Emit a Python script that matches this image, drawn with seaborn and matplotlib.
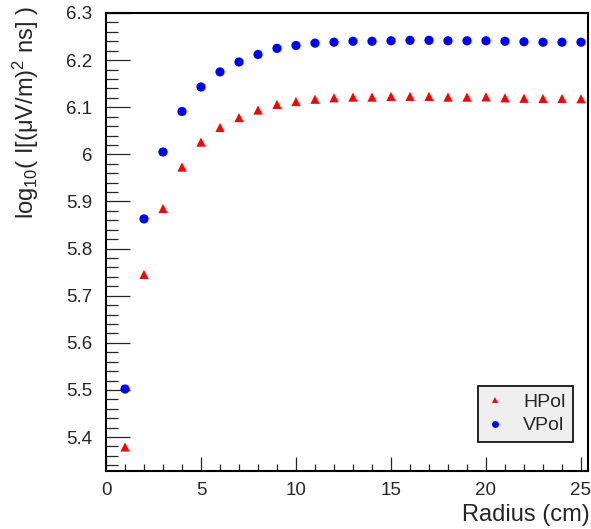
import pandas as pd
import matplotlib
matplotlib.use('Agg')
import matplotlib.pyplot as plt
import seaborn as sns
from matplotlib.ticker import MultipleLocator, FuncFormatter

# Values
radius = list(range(1, 26))
hpol = [5.379, 5.745, 5.885, 5.973, 6.026, 6.057, 6.078, 6.094, 6.106, 6.112,
        6.117, 6.120, 6.1215, 6.1215, 6.123, 6.123, 6.123, 6.1215, 6.1215, 6.122,
        6.120, 6.119, 6.1185, 6.1185, 6.118]
vpol = [5.502, 5.863, 6.005, 6.091, 6.143, 6.175, 6.196, 6.212, 6.225, 6.231,
        6.236, 6.238, 6.240, 6.240, 6.241, 6.242, 6.242, 6.241, 6.241, 6.241,
        6.240, 6.239, 6.238, 6.238, 6.238]
series_names = ['HPol', 'VPol']

df = pd.DataFrame({
    'radius': radius + radius,
    'value': hpol + vpol,
    'pol': [series_names[0]] * len(radius) + [series_names[1]] * len(radius),
})

sns.set_style('white')
plt.rcParams['font.family'] = ['Liberation Sans', 'DejaVu Sans']
plt.rcParams['mathtext.fontset'] = 'custom'
plt.rcParams['mathtext.rm'] = 'Liberation Sans'
plt.rcParams['mathtext.it'] = 'Liberation Sans:italic'

fig = plt.figure(figsize=(5.91, 5.29), dpi=100)
ax = fig.add_axes([106 / 591, 1 - 471 / 529, 482 / 591, 458 / 529])

sns.scatterplot(data=df, x='radius', y='value', hue='pol', style='pol',
                markers={'HPol': '^', 'VPol': 'o'},
                palette={'HPol': '#ff0000', 'VPol': '#0000ff'},
                s=44, linewidth=0, ax=ax)

ax.set_xlim(0, 25.37)
ax.set_ylim(5.328, 6.3)

ax.xaxis.set_major_locator(MultipleLocator(5))
ax.xaxis.set_minor_locator(MultipleLocator(1))
ax.yaxis.set_major_locator(MultipleLocator(0.1))
ax.yaxis.set_minor_locator(MultipleLocator(0.02))
ax.yaxis.set_major_formatter(FuncFormatter(lambda v, p: f'{v:g}'))

ax.tick_params(axis='x', which='major', direction='in', length=10, width=0.9,
               labelsize=13.5, pad=8, bottom=True, top=False)
ax.tick_params(axis='x', which='minor', direction='in', length=5, width=0.9,
               bottom=True, top=False)
ax.tick_params(axis='y', which='major', direction='in', length=17, width=0.9,
               labelsize=13.5, pad=10, left=True, right=False)
ax.tick_params(axis='y', which='minor', direction='in', length=8.5, width=0.9,
               left=True, right=False)

for sp in ax.spines.values():
    sp.set_linewidth(1.5)
    sp.set_color('black')

ax.set_xlabel('Radius (cm)', fontsize=17, loc='right')
ax.xaxis.set_label_coords(1.004, -0.072)
ax.set_ylabel('log$_\\mathregular{10}$( I[(μV/m)$^\\mathregular{2}$ ns] )',
              fontsize=17, loc='top')
ax.yaxis.set_label_coords(-0.135, 1.015)

leg = ax.legend(loc='lower right', bbox_to_anchor=(0.969, 0.063), fontsize=14,
                frameon=True, fancybox=False, edgecolor='black',
                facecolor='#efefef', framealpha=1, borderaxespad=0,
                handlelength=0.9, handletextpad=1.0, borderpad=0.4,
                labelspacing=0.3, markerscale=0.75)
leg.get_frame().set_linewidth(1.2)

plt.savefig('out.png', dpi=100)
plt.close()
